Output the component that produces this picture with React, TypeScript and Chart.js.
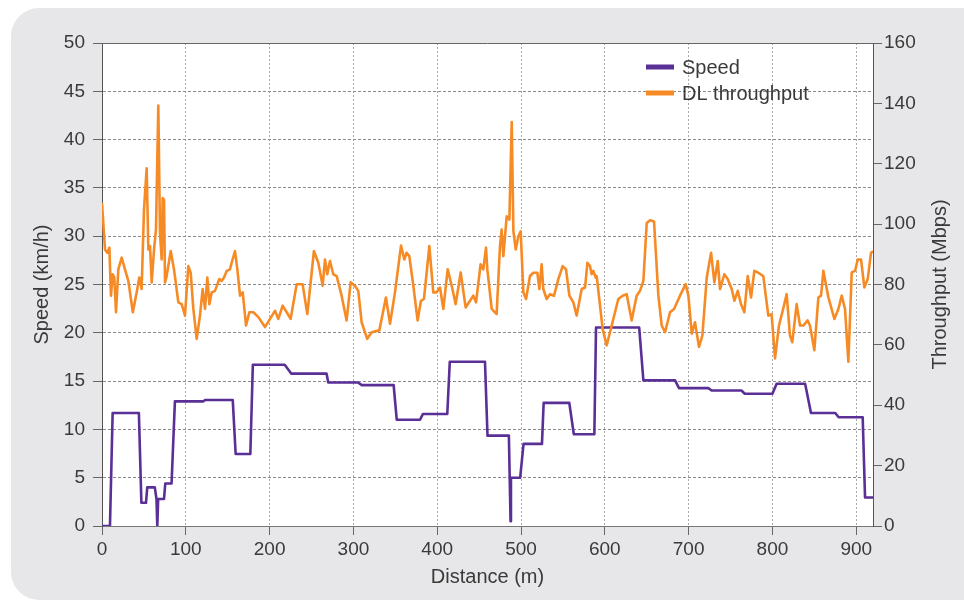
import React, { useEffect, useRef } from "react";
import { Chart, registerables } from "chart.js";

Chart.register(...registerables);

// Speed (km/h) vs distance (m) – step profile
const speedDistance = [
  0, 9.5, 12.7, 44, 47, 52.5, 54, 63, 65, 66, 67, 74, 75.5, 83, 87, 121, 123, 156, 159.5, 177,
  180, 218, 226, 268, 270, 305.5, 310, 348, 351.7, 379.5, 383, 412, 415, 457, 460, 485.5, 487.5,
  488, 499, 503, 525, 527, 557.6, 563, 587.5, 589.5, 641, 646, 683.8, 688.5, 723.5, 727.5, 763,
  767, 800, 805, 839, 846, 875, 879, 907.7, 910.5, 920,
];
const speedKmh = [
  0, 0, 11.7, 11.7, 2.4, 2.4, 4.0, 4.0, 2.8, 0, 2.8, 2.8, 4.4, 4.4, 12.9, 12.9, 13.05, 13.05,
  7.45, 7.45, 16.7, 16.7, 15.77, 15.77, 14.86, 14.86, 14.58, 14.58, 11.0, 11.0, 11.6, 11.6, 17.0,
  17.0, 9.36, 9.36, 0.5, 5.0, 5.0, 8.5, 8.5, 12.75, 12.75, 9.5, 9.5, 20.55, 20.55, 15.07, 15.07,
  14.27, 14.27, 14.03, 14.03, 13.69, 13.69, 14.73, 14.73, 11.7, 11.7, 11.26, 11.26, 2.95, 2.95,
];

// DL throughput (Mbps) vs distance (m)
const throughputDistance = [
  0, 3.6, 6.4, 8.8, 10.7, 12.7, 14.7, 16.7, 19.5, 23.5, 27.4, 31.4, 36.8, 41.4, 44.5, 47.3, 50.1,
  53.3, 55.3, 57.3, 59.3, 62.1, 64.4, 67.2, 69.2, 71.2, 72.4, 74.0, 75.2, 77.2, 82.0, 85.9, 91.1,
  95.1, 99.0, 103.0, 105.8, 109.0, 113.0, 116.9, 120.1, 122.9, 125.7, 128.1, 130.9, 134.8, 140.0,
  142.8, 145.6, 148.8, 152.7, 154.7, 158.7, 161.5, 164.7, 167.9, 171.9, 175.8, 180.6, 186.6,
  194.5, 200.5, 206.5, 210.4, 215.6, 220.4, 225.1, 232.3, 239.4, 245, 252.9, 258.1, 263.3, 266.1,
  268.8, 272.0, 276.0, 280.0, 285.9, 291.9, 296.7, 301.8, 305.8, 309.8, 316.5, 321.7, 330.9,
  338.8, 343.7, 349.6, 356.8, 360.7, 363.5, 366.7, 371.5, 376.6, 380.6, 384.2, 390.6, 395.3,
  399.3, 403.3, 407.3, 412.5, 417.3, 422.0, 428.0, 433.9, 439.1, 443.1, 446.3, 451.8, 455.0,
  458.2, 459.8, 465, 470.9, 474.9, 476.9, 478.9, 482.9, 486.1, 488.9, 490.9, 493.7, 496.8, 499.6,
  502.8, 506.0, 510.7, 514.7, 519.5, 521.9, 524.6, 526.6, 530.6, 534.6, 539.4, 544.5, 549.7,
  553.7, 557.7, 562.4, 566.4, 572.4, 576.4, 579.2, 582.3, 584.3, 586.3, 589.1, 590.3, 597.4,
  602.2, 608.2, 616.1, 621.3, 626.1, 632.0, 638.0, 642.0, 646.0, 650.0, 654.0, 658.7, 663.9,
  667.9, 671.9, 677.8, 682.6, 689.7, 696.5, 699.7, 703.7, 707.6, 712.4, 716.4, 721.6, 726.8,
  730.7, 734.7, 737.5, 742.6, 746.6, 751.4, 754.6, 758.6, 762.5, 766.5, 770.5, 774.5, 778.4,
  783.2, 789.1, 795.1, 799.0, 803.1, 807.8, 811.8, 817.0, 820.9, 823.7, 828.9, 832.9, 836.9,
  842.0, 844.8, 850.0, 854.8, 858.0, 860.8, 866.8, 873.9, 878.7, 882.7, 886.6, 890.6, 894.6,
  898.6, 901.8, 905.7, 909.7, 913.7, 917.6, 920,
];
const throughputMbps = [
  107, 91.6, 90.5, 92.2, 76.3, 83.4, 82.3, 70.8, 85.0, 88.9, 85.0, 81.2, 70.8, 77.4, 82.3, 78.5,
  104.8, 118.5, 91.6, 92.7, 80.7, 91.6, 98.2, 139.3, 97.1, 88.3, 108.6, 108.1, 80.7, 82.8, 91.1,
  85.0, 74.1, 73.5, 69.7, 86.1, 84.0, 71.9, 62.0, 69.7, 78.5, 71.9, 82.3, 73.5, 77.4, 77.9, 81.8,
  81.2, 82.3, 84.5, 85.0, 87.2, 91.1, 85.0, 76.3, 77.4, 66.4, 70.8, 70.8, 69.2, 65.9, 68.6, 71.3,
  68.6, 73.0, 70.8, 68.6, 80.1, 80.1, 70.2, 91.1, 87.2, 79.6, 88.3, 83.4, 87.8, 83.4, 82.8, 76.3,
  68.1, 80.7, 79.6, 77.9, 67.5, 62.0, 64.2, 64.8, 75.7, 67.0, 77.4, 92.9, 88.3, 90.5, 89.4, 79.6,
  68.1, 74.6, 75.2, 92.7, 77.4, 77.4, 79.0, 71.9, 85.0, 79.6, 73.5, 84.0, 72.4, 74.6, 76.3, 74.1,
  86.7, 85.0, 92.2, 85.0, 71.9, 70.2, 92.7, 98.2, 89.4, 102.6, 101.5, 133.8, 97.6, 91.6, 96.0,
  97.6, 77.4, 75.2, 82.8, 83.9, 83.9, 78.5, 86.7, 78.5, 75.2, 76.8, 76.3, 81.8, 86.1, 85.0, 76.3,
  74.1, 69.7, 78.5, 79.0, 87.2, 86.1, 83.4, 84.5, 82.3, 82.8, 65.3, 59.8, 66.4, 75.2, 76.3, 76.8,
  68.1, 76.3, 77.9, 81.2, 100.4, 101.3, 100.9, 76.3, 66.4, 64.2, 70.8, 71.9, 76.3, 80.1, 76.3,
  63.7, 67.5, 59.3, 63.1, 82.3, 90.5, 80.7, 87.8, 78.5, 83.4, 81.8, 78.5, 74.6, 77.9, 73.5, 70.8,
  82.8, 75.7, 84.5, 83.9, 82.8, 69.7, 70.2, 55.5, 66.4, 70.8, 76.8, 63.1, 60.9, 73.5, 66.4, 66.4,
  68.1, 66.4, 58.2, 75.7, 76.3, 84.5, 75.7, 68.6, 71.9, 76.3, 71.9, 54.4, 84.0, 84.5, 88.3, 88.3,
  79.0, 81.8, 90.5, 91,
];

const seriesLabels = ["Speed", "DL throughput"];
const seriesColors = ["#5a2f96", "#f68b26"];
const axisTitles = { x: "Distance (m)", y: "Speed (km/h)", y1: "Throughput (Mbps)" };

const FONT = "'Liberation Sans', Arial, Helvetica, sans-serif";
const TEXT = "#3a3a3a";

const plotBackground = {
  id: "plotBackground",
  beforeDraw(chart: any) {
    const { ctx, chartArea } = chart;
    ctx.save();
    ctx.fillStyle = "#ffffff";
    ctx.fillRect(chartArea.left, chartArea.top, chartArea.right - chartArea.left, chartArea.bottom - chartArea.top);
    ctx.restore();
  },
  afterDraw(chart: any) {
    const { ctx, chartArea } = chart;
    ctx.save();
    ctx.strokeStyle = "#666666";
    ctx.lineWidth = 1;
    ctx.beginPath();
    ctx.moveTo(chartArea.left, Math.round(chartArea.top) + 0.5);
    ctx.lineTo(chartArea.right, Math.round(chartArea.top) + 0.5);
    ctx.stroke();
    ctx.restore();
  },
};

// Right axis title, reading bottom-to-top like the reference
const rightTitle = {
  id: "rightTitle",
  afterDraw(chart: any) {
    const { ctx, chartArea } = chart;
    ctx.save();
    ctx.font = `20px ${FONT}`;
    ctx.fillStyle = TEXT;
    ctx.textAlign = "center";
    ctx.textBaseline = "middle";
    ctx.translate(chart.width - 24, (chartArea.top + chartArea.bottom) / 2);
    ctx.rotate(-Math.PI / 2);
    ctx.fillText(axisTitles.y1, 0, 0);
    ctx.restore();
  },
};

const insideLegend = {
  id: "insideLegend",
  afterDraw(chart: any) {
    const { ctx, chartArea } = chart;
    const x0 = chartArea.right - 227;
    const y0 = chartArea.top + 24;
    ctx.save();
    ctx.font = `20px ${FONT}`;
    ctx.textBaseline = "middle";
    ctx.textAlign = "left";
    chart.data.datasets.forEach((ds: any, i: number) => {
      const y = y0 + i * 26;
      ctx.strokeStyle = ds.borderColor;
      ctx.lineWidth = 5;
      ctx.beginPath();
      ctx.moveTo(x0, y);
      ctx.lineTo(x0 + 28, y);
      ctx.stroke();
      ctx.fillStyle = TEXT;
      ctx.fillText(ds.label, x0 + 36, y + 1);
    });
    ctx.restore();
  },
};

export default function App() {
  const ref = useRef<HTMLCanvasElement | null>(null);

  useEffect(() => {
    if (!ref.current) return;
    const speedData = speedDistance.map((d, i) => ({ x: d, y: speedKmh[i] }));
    const tputData = throughputDistance.map((d, i) => ({ x: d, y: throughputMbps[i] }));
    const chart = new Chart(ref.current, {
      type: "line",
      data: {
        datasets: [
          {
            label: seriesLabels[0],
            data: speedData,
            borderColor: seriesColors[0],
            backgroundColor: seriesColors[0],
            borderWidth: 2.6,
            pointRadius: 0,
            tension: 0,
            yAxisID: "y",
            order: 1,
            borderJoinStyle: "round",
          },
          {
            label: seriesLabels[1],
            data: tputData,
            borderColor: seriesColors[1],
            backgroundColor: seriesColors[1],
            borderWidth: 2.6,
            pointRadius: 0,
            tension: 0,
            yAxisID: "y1",
            order: 0,
            borderJoinStyle: "round",
          },
        ],
      },
      options: {
        animation: false,
        responsive: false,
        devicePixelRatio: 1,
        layout: { padding: { top: 43, left: 0, right: 0, bottom: 0 } },
        plugins: { legend: { display: false }, tooltip: { enabled: false } },
        scales: {
          x: {
            type: "linear",
            min: 0,
            max: 920,
            afterFit: (s: any) => {
              s.height = 82;
            },
            ticks: {
              stepSize: 100,
              includeBounds: false,
              autoSkip: false,
              maxRotation: 0,
              padding: 3,
              color: TEXT,
              font: { family: FONT, size: 19 },
            },
            grid: {
              color: "#a8a8a8",
              lineWidth: 1,
              tickLength: 9,
              tickColor: "#666666",
              tickBorderDash: [],
            },
            border: { display: true, color: "#777777", width: 1, dash: [2, 2] },
            title: {
              display: true,
              text: axisTitles.x,
              color: TEXT,
              font: { family: FONT, size: 20 },
              padding: { top: 0, bottom: 19 },
            },
          },
          y: {
            type: "linear",
            position: "left",
            min: 0,
            max: 50,
            afterFit: (s: any) => {
              s.width = 102;
            },
            ticks: {
              stepSize: 5,
              includeBounds: false,
              padding: 8,
              color: TEXT,
              font: { family: FONT, size: 19 },
            },
            grid: {
              color: "#8a8a8a",
              lineWidth: 1,
              tickLength: 9,
              tickColor: "#666666",
              tickBorderDash: [],
            },
            border: { display: true, color: "#555555", width: 1, dash: [3, 2] },
            title: {
              display: true,
              text: axisTitles.y,
              color: TEXT,
              font: { family: FONT, size: 20 },
              padding: { top: 30, bottom: 0 },
            },
          },
          y1: {
            type: "linear",
            position: "right",
            min: 0,
            max: 160,
            afterFit: (s: any) => {
              s.width = 91;
            },
            ticks: {
              stepSize: 20,
              includeBounds: false,
              padding: 2,
              color: TEXT,
              font: { family: FONT, size: 19 },
            },
            grid: {
              drawOnChartArea: false,
              tickLength: 9,
              tickColor: "#666666",
              tickBorderDash: [],
            },
            border: { display: true, color: "#555555", width: 1 },
            title: { display: false, text: axisTitles.y1 },
          },
        },
      },
      plugins: [plotBackground, insideLegend, rightTitle],
    } as any);
    return () => chart.destroy();
  }, []);

  return (
    <div style={{ position: "absolute", left: 0, top: 0, width: 964, height: 608, background: "#ffffff", overflow: "hidden" }}>
      <div
        style={{
          position: "absolute",
          left: 11,
          top: 8,
          width: 990,
          height: 592,
          background: "#e7e7e9",
          borderRadius: 28,
        }}
      />
      <canvas ref={ref} width={964} height={608} style={{ position: "absolute", left: 0, top: 0, width: 964, height: 608 }} />
    </div>
  );
}
